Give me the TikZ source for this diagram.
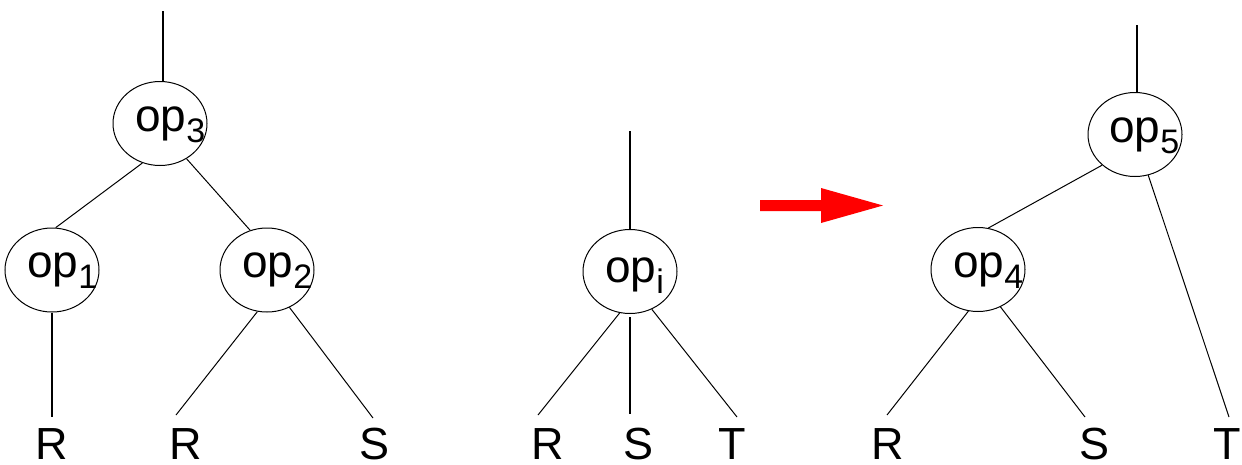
\documentclass[tikz,border=0pt]{standalone}
\usepackage{fontspec}
\setmainfont{Liberation Sans}
\usetikzlibrary{shapes.geometric,calc}
\newcommand\opsubscript[1]{\raisebox{-11pt}{\fontsize{34}{34}\selectfont #1}}
\begin{document}
\begin{tikzpicture}[x=1pt,y=-1pt,
  opnode/.style={draw=black, line width=1pt, ellipse, minimum width=94pt, minimum height=84pt, inner sep=0pt},
  optext/.style={anchor=base west, inner sep=0pt, font=\fontsize{46}{50}\selectfont},
  leaf/.style={anchor=base, inner sep=0pt, font=\fontsize{45}{48}\selectfont},
  thin edge/.style={draw=black, line width=1pt},
  thick edge/.style={draw=black, line width=1.8pt}]
\useasboundingbox (0,0) rectangle (1242,464);

% ---------- left tree ----------
\node[opnode] (op3) at (160,123.5) {};
\node[opnode] (op1) at (52,270) {};
\node[opnode] (op2) at (267,270) {};
\node[optext] (t3) at ($(op3)+(-25,7.5)$) {op\opsubscript{3}};
\node[optext] (t1) at ($(op1)+(-25,7.5)$) {op\opsubscript{1}};
\node[optext] (t2) at ($(op2)+(-25,7.5)$) {op\opsubscript{2}};
\node[leaf] (R1) at (52,459) {R};
\node[leaf] (R2) at (186,459) {R};
\node[leaf] (S1) at (375,459) {S};
\coordinate (top3) at (163,11);
\coordinate (eR1) at (52,417);
\coordinate (eR2) at (176,415);
\coordinate (eS1) at (373,418);
\draw[thick edge] (top3) -- (top3 |- op3.north);
\draw[thin edge] (op3.246) -- (op1.85);
\draw[thin edge] (op3.307) -- (op2.113);
\draw[thick edge] (op1.south) -- (eR1);
\draw[thin edge] (op2.257) -- (eR2);
\draw[thin edge] (op2.301) -- (eS1);

% ---------- middle tree ----------
\node[opnode] (opi) at (630,271.5) {};
\node[optext] (ti) at ($(opi)+(-25,10.5)$) {op\opsubscript{i}};
\node[leaf] (R3) at (548,459) {R};
\node[leaf] (S3) at (638,459) {S};
\node[leaf] (T3) at (732,459) {T};
\coordinate (topi) at (630,131);
\coordinate (eR3) at (538,415);
\coordinate (eS3) at (630,414);
\coordinate (eT3) at (737,417);
\draw[thick edge] (topi) -- (opi.north);
\draw[thin edge] (opi.256) -- (eR3);
\draw[thick edge] ($(opi.south)+(0,3)$) -- (eS3);
\draw[thin edge] (opi.300) -- (eT3);

% ---------- arrow ----------
\fill[red] (760,200) -- (821,200) -- (821,188) -- (883,205.5) -- (821,223) -- (821,211) -- (760,211) -- cycle;

% ---------- right tree ----------
\node[opnode] (op5) at (1135,134.5) {};
\node[opnode] (op4) at (978,269.5) {};
\node[optext] (t5) at ($(op5)+(-26,7.5)$) {op\opsubscript{5}};
\node[optext] (t4) at ($(op4)+(-25,7.5)$) {op\opsubscript{4}};
\node[leaf] (R4) at (888,459) {R};
\node[leaf] (S4) at (1094,459) {S};
\node[leaf] (T4) at (1227,459) {T};
\coordinate (top5) at (1137,25);
\coordinate (eR4) at (887,415);
\coordinate (eS4) at (1085,417);
\coordinate (eT4) at (1229,417);
\draw[thick edge] (top5) -- (top5 |- op5.north);
\draw[thin edge] (op5.223) -- (op4.76);
\draw[thin edge] (op5.288) -- (eT4);
\draw[thin edge] (op4.257) -- (eR4);
\draw[thin edge] (op4.301) -- (eS4);
\end{tikzpicture}
\end{document}
